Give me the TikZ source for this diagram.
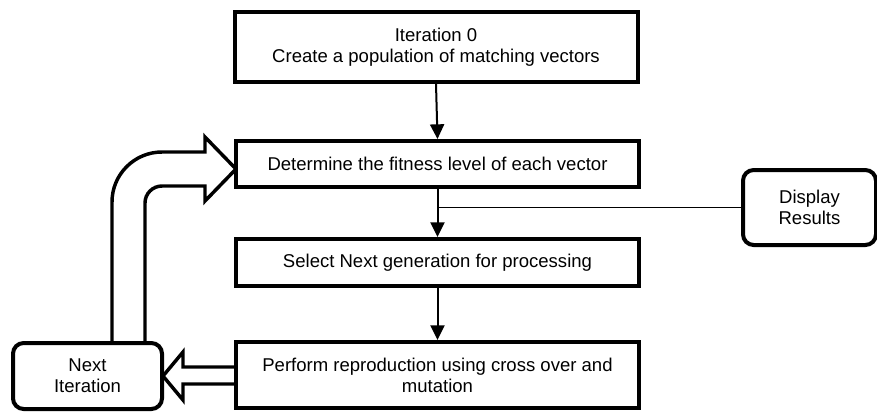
\documentclass[tikz,border=0pt]{standalone}
\usepackage{fontspec}
\setmainfont{Liberation Sans}
\usetikzlibrary{arrows.meta}
\begin{document}
\begin{tikzpicture}[x=0.75pt,y=-0.75pt,
  every node/.style={font=\fontsize{13.9}{15.75}\selectfont, align=center, inner sep=0pt},
  stepbox/.style={draw, line width=3pt, fill=white, minimum width=302.25pt},
  roundbox/.style={draw, line width=3pt, fill=white, rounded corners=8pt},
  flow/.style={line width=1.5pt, -{Triangle[length=11pt,width=10.5pt]}},
  thinline/.style={line width=1.1pt},
  blockarrow/.style={line width=2.6pt, fill=white, line join=miter}]
\useasboundingbox (0,0) rectangle (877,412);
\fill[white] (0,0) rectangle (877,412);

% block arrows (drawn first so the boxes cover their ends)
\draw[blockarrow] (112,343) -- (112,202) .. controls (112,174.4) and (134.4,152) .. (162,152)
  -- (205,152) -- (205,137) -- (236,169) -- (205,201) -- (205,186) -- (162,186)
  .. controls (152.6,186) and (145,193.6) .. (145,203) -- (145,343);
\draw[blockarrow] (238,367) -- (183,367) -- (183,352) -- (163,376) -- (183,400) -- (183,384) -- (238,384);

\node[stepbox, minimum height=52.5pt] (b1) at (436,47) {Iteration 0\\Create a population of matching vectors};
\node[stepbox, minimum height=34.5pt] (b2) at (437.5,164) {Determine the fitness level of each vector};
\node[stepbox, minimum height=35.25pt] (b3) at (437.5,262.5) {Select Next generation for processing};
\node[stepbox, minimum height=49.5pt] (b4) at (437.5,375) {Perform reproduction using cross over and\\mutation};
\node[roundbox, minimum width=99.75pt, minimum height=56.25pt] (disp) at (809.5,207.5) {Display\\Results};
\node[roundbox, minimum width=111.75pt, minimum height=49.5pt] (next) at (87.5,376) {Next\\Iteration};

\draw[flow] (b1.south) -- (b2.north);
\draw[flow] (b2.south) -- (b3.north);
\draw[flow] (b3.south) -- (b4.north);
\draw[thinline] (disp.west) -- (disp.west -| b2.south);
\end{tikzpicture}
\end{document}
